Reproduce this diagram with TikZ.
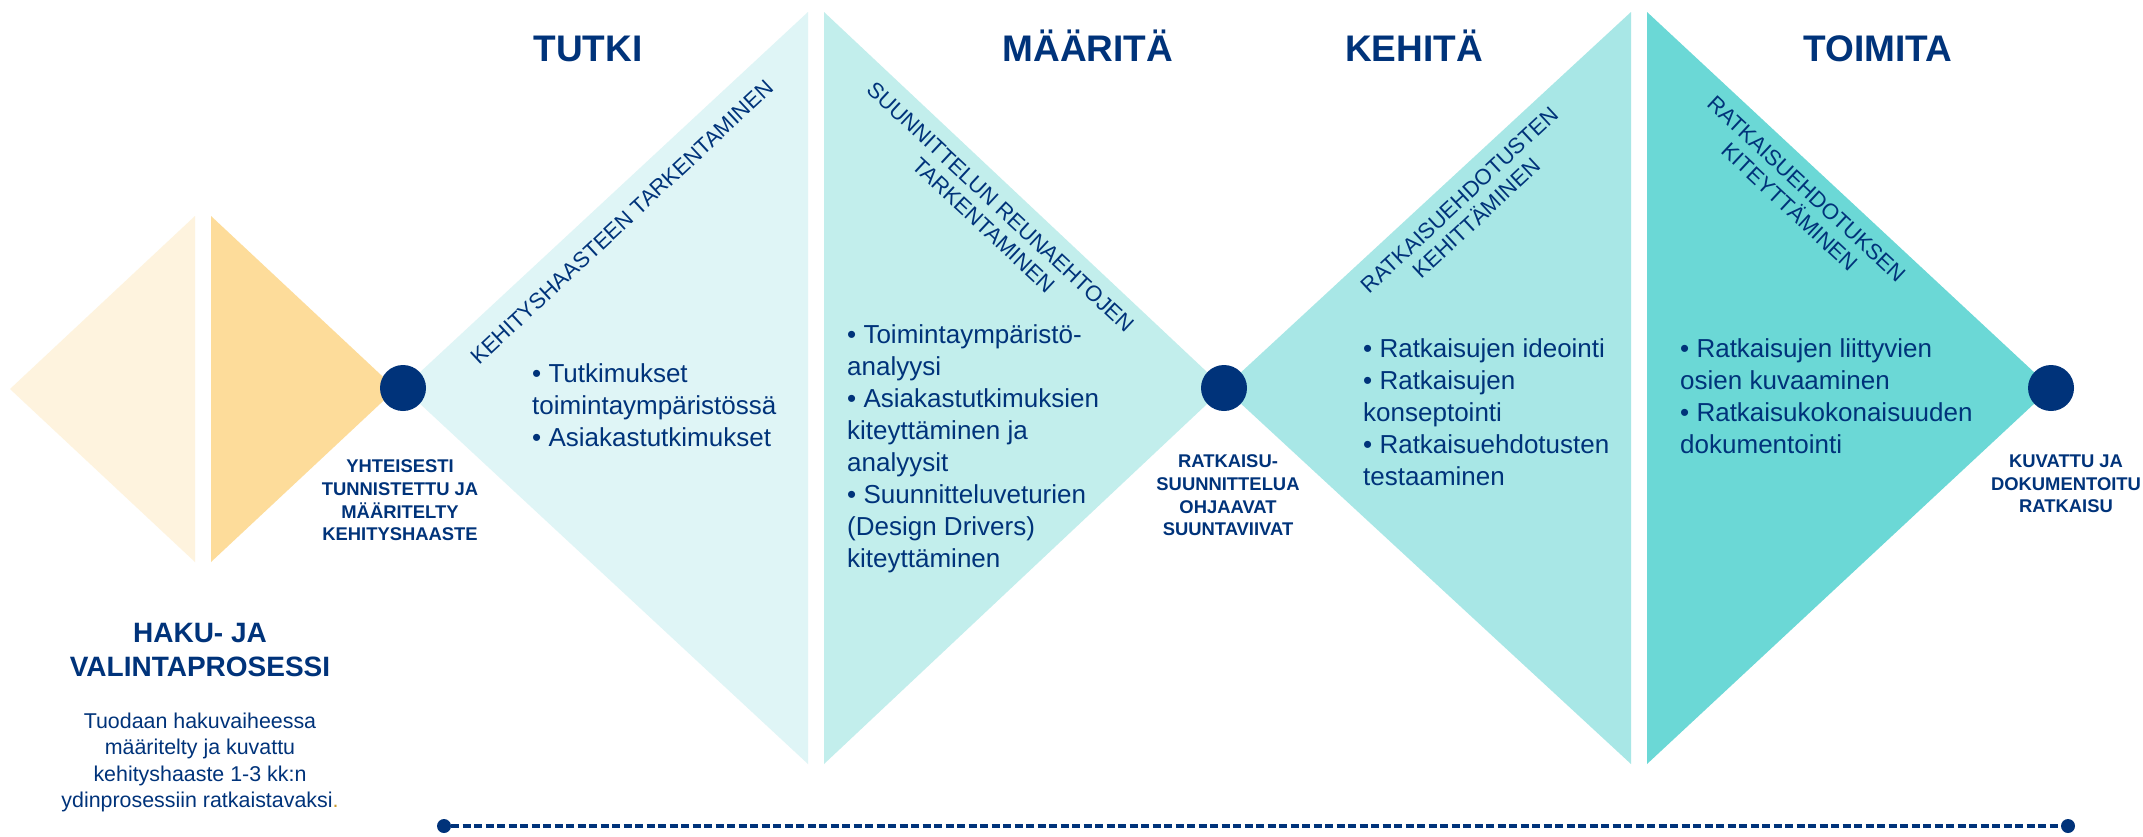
\documentclass[tikz,border=0pt]{standalone}
\usepackage{fontspec}
\setmainfont{Liberation Sans}
\definecolor{navy}{HTML}{00337A}
\definecolor{creamA}{HTML}{FEF3DE}
\definecolor{creamB}{HTML}{FDDC9A}
\definecolor{tealA}{HTML}{DFF5F6}
\definecolor{tealB}{HTML}{C2EEEC}
\definecolor{tealC}{HTML}{A8E7E6}
\definecolor{tealD}{HTML}{6BD8D6}
\definecolor{goldpt}{HTML}{C99A2E}
\begin{document}
\begin{tikzpicture}[x=1pt,y=-1pt,
  phase/.style={font=\fontsize{37}{44}\selectfont\bfseries, text=navy, anchor=base, inner sep=0pt},
  diag/.style={font=\fontsize{22}{25}\selectfont, text=navy, align=center, inner sep=0pt},
  bullets/.style={font=\fontsize{26}{32}\selectfont, text=navy, align=left, anchor=north west, inner sep=0pt},
  milestone/.style={circle, fill=navy, minimum size=46pt, inner sep=0pt},
  mslabel/.style={font=\fontsize{18.4}{22.6}\selectfont\bfseries, text=navy, align=center, anchor=north, inner sep=0pt},
  enddot/.style={circle, fill=navy, minimum size=14pt, inner sep=0pt},
  dashline/.style={navy, line width=3.5pt, dash pattern=on 8pt off 3.5pt}
]
\fill[white] (0,0) rectangle (2143,836);
\useasboundingbox (0,0) rectangle (2143,836);
% shapes
\fill[creamA] (10,389) -- (195,216) -- (195,562) -- cycle;
\fill[creamB] (211,216) -- (396,389) -- (211,562) -- cycle;
\fill[tealA] (403,388) -- (808,12) -- (808,764) -- cycle;
\fill[tealB] (824,12) -- (1224,388) -- (824,764) -- cycle;
\fill[tealC] (1224,388) -- (1631,12) -- (1631,764) -- cycle;
\fill[tealD] (1647,12) -- (2051,388) -- (1647,764) -- cycle;
% milestones
\node[milestone] (m1) at (403,388) {};
\node[milestone] (m2) at (1224,388) {};
\node[milestone] (m3) at (2051,388) {};
% headings
\node[phase] (h1) at (588,61) {TUTKI};
\node[phase] (h2) at (1088,61) {MÄÄRITÄ};
\node[phase] (h3) at (1414,61) {KEHITÄ};
\node[phase] (h4) at (1878,61) {TOIMITA};
% diagonal labels
\node[diag, rotate=43] (d1) at (622,222) {KEHITYSHAASTEEN TARKENTAMINEN};
\node[diag, rotate=-43] (d2) at (992,216) {SUUNNITTELUN REUNAEHTOJEN\\TARKENTAMINEN};
\node[diag, rotate=43] (d3) at (1468,209) {RATKAISUEHDOTUSTEN\\KEHITTÄMINEN};
\node[diag, rotate=-43] (d4) at (1798,198) {RATKAISUEHDOTUKSEN\\KITEYTTÄMINEN};
% bullets
\node[bullets] (b1) at (532,363.4) {• Tutkimukset\\toimintaympäristössä\\• Asiakastutkimukset};
\node[bullets] (b2) at (847,324.4) {• Toimintaympäristö-\\analyysi\\• Asiakastutkimuksien\\kiteyttäminen ja\\analyysit\\• Suunnitteluveturien\\(Design Drivers)\\kiteyttäminen};
\node[bullets] (b3) at (1363,338.4) {• Ratkaisujen ideointi\\• Ratkaisujen\\konseptointi\\• Ratkaisuehdotusten\\testaaminen};
\node[bullets] (b4) at (1680,338.4) {• Ratkaisujen liittyvien\\osien kuvaaminen\\• Ratkaisukokonaisuuden\\dokumentointi};
% milestone labels
\node[mslabel] (l1) at (400,459.8) {YHTEISESTI\\TUNNISTETTU JA\\MÄÄRITELTY\\KEHITYSHAASTE};
\node[mslabel] (l2) at (1228,454.8) {RATKAISU-\\SUUNNITTELUA\\OHJAAVAT\\SUUNTAVIIVAT};
\node[mslabel] (l3) at (2066,454.8) {KUVATTU JA\\DOKUMENTOITU\\RATKAISU};
% left text
\node[font=\fontsize{28}{34}\selectfont\bfseries, text=navy, align=center, anchor=north, inner sep=0pt] (ht) at (200,623) {HAKU- JA\\VALINTAPROSESSI};
\node[font=\fontsize{21.4}{26.5}\selectfont, text=navy, align=center, anchor=north, inner sep=0pt] (hb) at (200,712.7) {Tuodaan hakuvaiheessa\\määritelty ja kuvattu\\kehityshaaste 1-3 kk:n\\ydinprosessiin ratkaistavaksi{\color{goldpt}.}};
% timeline
\node[enddot] (ds) at (444,826) {};
\node[enddot] (de) at (2068,826) {};
\draw[dashline] (ds) -- (de);
\end{tikzpicture}
\end{document}
